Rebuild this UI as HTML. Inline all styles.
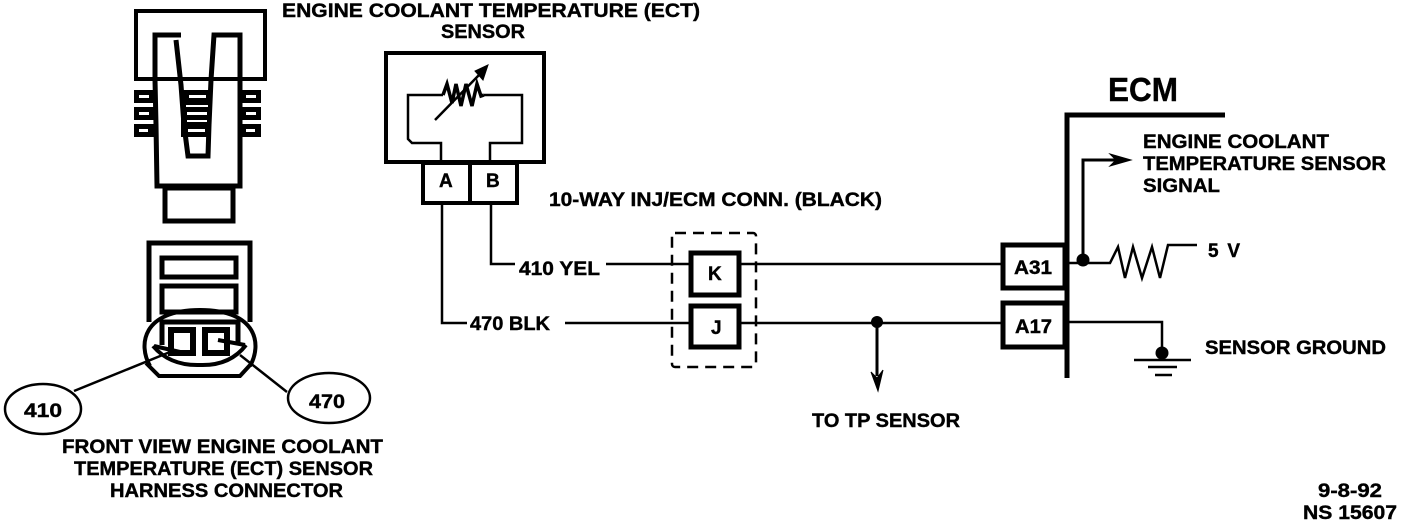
<!DOCTYPE html>
<html>
<head>
<meta charset="utf-8">
<style>
html,body{margin:0;padding:0;background:#fff;width:1408px;height:522px;overflow:hidden}
svg{display:block}
text{font-family:"Liberation Sans",sans-serif;font-weight:bold;fill:#000}
.t{font-size:19px}
</style>
</head>
<body>
<svg width="1408" height="522" viewBox="0 0 1408 522" xmlns="http://www.w3.org/2000/svg" fill="none" stroke="#000">
<!-- top connector -->
<g stroke-width="4">
<rect x="136" y="11" width="129" height="68"/>
<path d="M181 35H155V80L156 125L157 186H240V35H214L211 80L209 125L208 156H188L184 125L181 85L176 40" stroke-width="5"/>
<rect x="165" y="188" width="68" height="33" stroke-width="5"/>
</g>
<g fill="#000" stroke="none">
<rect x="134" y="90" width="20" height="13"/><rect x="134" y="107" width="20" height="13"/><rect x="134" y="124" width="20" height="13"/>
<rect x="241" y="90" width="20" height="13"/><rect x="241" y="107" width="20" height="13"/><rect x="241" y="124" width="20" height="13"/>
<rect x="181" y="90" width="29" height="47"/>
<g fill="#fff">
<rect x="139" y="95" width="10" height="3"/><rect x="139" y="112" width="10" height="3"/><rect x="139" y="129" width="9" height="3"/>
<rect x="246" y="95" width="10" height="3"/><rect x="246" y="112" width="10" height="3"/><rect x="246" y="129" width="9" height="3"/>
<rect x="189" y="95" width="17" height="3"/><rect x="186" y="105" width="22" height="2"/><rect x="187" y="112" width="20" height="3"/><rect x="187" y="120" width="20" height="2"/><rect x="188" y="129" width="17" height="3"/>
</g>
</g>
<!-- lower connector -->
<g stroke-width="5">
<path d="M149 322V243H250V322"/>
<rect x="162" y="258" width="74" height="19"/>
<rect x="162" y="286" width="74" height="26"/>
<path d="M162 345V322H238V345"/>
<rect x="171" y="330" width="22" height="23" stroke-width="6"/>
<rect x="205" y="330" width="22" height="23" stroke-width="6"/>
<path d="M153 346Q170 366 200 365Q230 366 246 345" stroke-width="4"/>
<path d="M154 346L180 352M245 345L218 340" stroke-width="4"/>
<path d="M146 363L159 376H240L251 364" stroke-width="4"/>
</g>
<path d="M150 366C138 345 142 310 200 310C258 310 262 345 250 366" stroke-width="4"/>
<g stroke-width="2.5">
<path d="M74 391L170 352M287 392L240 355"/>
<ellipse cx="43" cy="409" rx="38" ry="25"/>
<ellipse cx="329" cy="398" rx="41" ry="25"/>
</g>
<!-- ECT sensor -->
<rect x="386" y="53" width="158" height="109" stroke-width="4"/>
<path d="M441 160V143H412L408 139V95H443M490 160V143H522V95H484" stroke-width="2.5"/>
<path d="M443 95L447 84L452 103L456 84L461 106L466 84L472 106L477 84L481 96L484 95" stroke-width="3.5"/>
<path d="M435 120L480 74" stroke-width="2.5"/>
<path d="M488 65L475 71L483 80Z" fill="#000" stroke-width="1"/>
<rect x="423" y="163" width="47" height="40" stroke-width="4"/>
<rect x="470" y="163" width="47" height="40" stroke-width="4"/>
<path d="M442 203V323H467M491 203V264H515M606 264H690M565 323H690" stroke-width="2.5"/>
<!-- splice -->
<rect x="672" y="233" width="84" height="134" rx="3" stroke-width="2.5" stroke-dasharray="11 7"/>
<rect x="691" y="253" width="48" height="42" stroke-width="5"/>
<rect x="691" y="306" width="48" height="41" stroke-width="5"/>
<path d="M740 264H1003M740 323H1003" stroke-width="2.5"/>
<circle cx="877" cy="322" r="6" fill="#000" stroke="none"/>
<path d="M877 322V376" stroke-width="3"/>
<path d="M871 372L877 378L883 370L878 391Z" fill="#000" stroke-width="1"/>
<!-- ECM -->
<path d="M1067 378V115H1225" stroke-width="5"/>
<rect x="1003" y="245" width="62" height="43" stroke-width="5"/>
<rect x="1003" y="303" width="62" height="44" stroke-width="5"/>
<circle cx="1083" cy="260" r="6.5" fill="#000" stroke="none"/>
<path d="M1069 263H1110L1118 247L1125 278L1133 247L1142 278L1152 247L1160 278L1168 245H1197" stroke-width="2.5"/>
<path d="M1083 260V160H1120" stroke-width="3"/>
<path d="M1110 154L1131 160L1110 166L1116 160Z" fill="#000" stroke-width="1"/>
<path d="M1069 322H1162V352" stroke-width="2.5"/>
<circle cx="1162" cy="353" r="6.5" fill="#000" stroke="none"/>
<path d="M1134 360H1191M1148 367H1177M1155 375H1172" stroke-width="2.5"/>
<!-- labels -->
<g stroke="#000" stroke-width="0.4">
<text class="t" x="282" y="17" textLength="418" lengthAdjust="spacingAndGlyphs">ENGINE COOLANT TEMPERATURE (ECT)</text>
<text class="t" x="441" y="38" textLength="84" lengthAdjust="spacingAndGlyphs">SENSOR</text>
<text class="t" x="549" y="206" textLength="333" lengthAdjust="spacingAndGlyphs">10-WAY INJ/ECM CONN. (BLACK)</text>
<text x="1108" y="101" font-size="33" textLength="70" lengthAdjust="spacingAndGlyphs">ECM</text>
<text class="t" x="1143" y="148" textLength="186" lengthAdjust="spacingAndGlyphs">ENGINE COOLANT</text>
<text class="t" x="1143" y="170" textLength="243" lengthAdjust="spacingAndGlyphs">TEMPERATURE SENSOR</text>
<text class="t" x="1143" y="192" textLength="77" lengthAdjust="spacingAndGlyphs">SIGNAL</text>
<text class="t" x="1208" y="257" textLength="32" lengthAdjust="spacing">5 V</text>
<text class="t" x="1205" y="354" textLength="181" lengthAdjust="spacingAndGlyphs">SENSOR GROUND</text>
<text class="t" x="1014" y="274" textLength="38" lengthAdjust="spacingAndGlyphs">A31</text>
<text class="t" x="1015" y="333" textLength="37" lengthAdjust="spacingAndGlyphs">A17</text>
<text class="t" x="708" y="280">K</text>
<text class="t" x="711" y="334">J</text>
<text class="t" x="439" y="187">A</text>
<text class="t" x="486" y="187">B</text>
<text class="t" x="519" y="275" textLength="81" lengthAdjust="spacingAndGlyphs">410 YEL</text>
<text class="t" x="470" y="330" textLength="80" lengthAdjust="spacingAndGlyphs">470 BLK</text>
<text class="t" x="812" y="427" textLength="148" lengthAdjust="spacingAndGlyphs">TO TP SENSOR</text>
<text class="t" x="1318" y="497" textLength="64" lengthAdjust="spacingAndGlyphs">9-8-92</text>
<text class="t" x="1303" y="519" textLength="94" lengthAdjust="spacingAndGlyphs">NS 15607</text>
<text class="t" x="62" y="453" textLength="321" lengthAdjust="spacingAndGlyphs">FRONT VIEW ENGINE COOLANT</text>
<text class="t" x="74" y="475" textLength="299" lengthAdjust="spacingAndGlyphs">TEMPERATURE (ECT) SENSOR</text>
<text class="t" x="110" y="497" textLength="233" lengthAdjust="spacingAndGlyphs">HARNESS CONNECTOR</text>
<text class="t" x="24" y="417" textLength="38" lengthAdjust="spacingAndGlyphs">410</text>
<text class="t" x="309" y="408" textLength="36" lengthAdjust="spacingAndGlyphs">470</text>
</g>
</svg>
</body>
</html>
